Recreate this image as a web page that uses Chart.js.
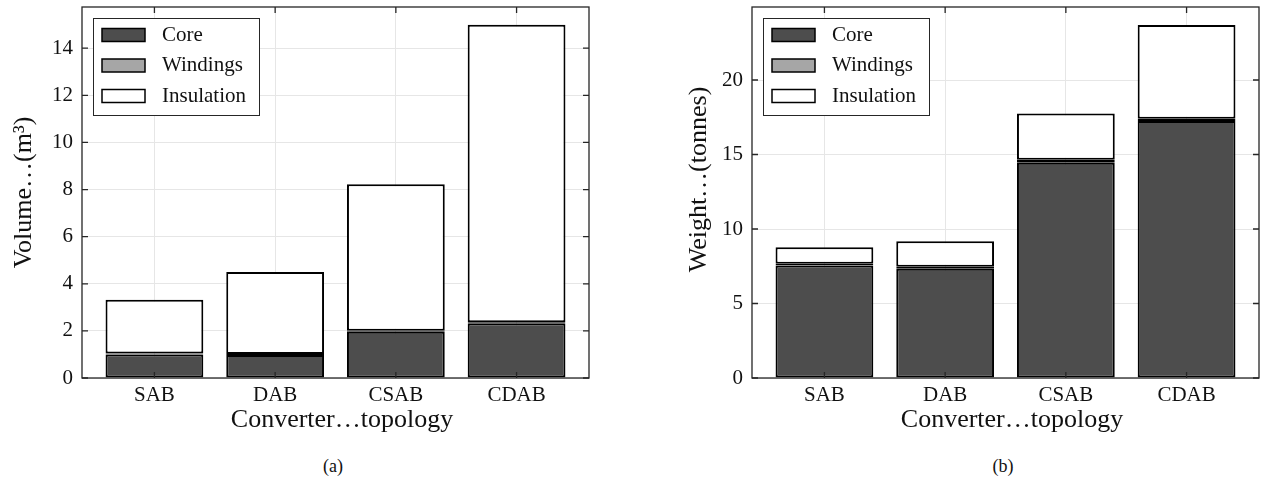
<!DOCTYPE html>
<html>
<head>
<meta charset="utf-8">
<script src="https://cdn.jsdelivr.net/npm/chart.js@4.4.0/dist/chart.umd.min.js"></script>
<style>
  body { margin: 0; background: #fff; width: 1264px; height: 495px; position: relative; overflow: hidden; font-family: "Liberation Serif", serif; }
  .panel { position: absolute; top: 0; width: 632px; height: 440px; }
  .cap { position: absolute; top: 456px; width: 60px; text-align: center; font-size: 18px; color: #111; }
</style>
</head>
<body>
<div class="panel" style="left:0"><canvas id="volumeChart" width="632" height="440"></canvas></div>
<div class="panel" style="left:632px"><canvas id="weightChart" width="632" height="440"></canvas></div>
<div class="cap" style="left:303px">(a)</div>
<div class="cap" style="left:973px">(b)</div>
<script>
// categories and series
const topologies = ["SAB", "DAB", "CSAB", "CDAB"];
const parts = ["Core", "Windings", "Insulation"];
const partColors = ["#4d4d4d", "#a6a6a6", "#ffffff"];

// (a) volume in m^3
const volumeCore = [1.0, 0.98, 1.96, 2.32];
const volumeWindings = [0.04, 0.04, 0.05, 0.05];
const volumeInsulation = [2.28, 3.48, 6.22, 12.63];
const volumeTicks = [0, 2, 4, 6, 8, 10, 12, 14];

// (b) weight in tonnes
const weightCore = [7.55, 7.34, 14.45, 17.25];
const weightWindings = [0.12, 0.12, 0.2, 0.15];
const weightInsulation = [1.10, 1.71, 3.11, 6.30];
const weightTicks = [0, 5, 10, 15, 20];

Chart.defaults.font.family = "'Liberation Serif', 'Times New Roman', serif";
Chart.defaults.color = "#111";

// axes box, inward ticks and the legend drawn on top like matlab does
const frameAndLegend = {
  id: "frameAndLegend",
  afterDraw(chart) {
    const { ctx, chartArea: a, scales } = chart;
    ctx.save();
    ctx.strokeStyle = "#262626";
    ctx.lineWidth = 1.3;
    ctx.strokeRect(a.left, a.top, a.right - a.left, a.bottom - a.top);

    ctx.beginPath();
    scales.y.ticks.forEach(t => {
      const py = scales.y.getPixelForValue(t.value);
      ctx.moveTo(a.left, py); ctx.lineTo(a.left + 6, py);
      ctx.moveTo(a.right, py); ctx.lineTo(a.right - 6, py);
    });
    scales.x.ticks.forEach(t => {
      const px = scales.x.getPixelForValue(t.value);
      ctx.moveTo(px, a.top); ctx.lineTo(px, a.top + 6);
      ctx.moveTo(px, a.bottom); ctx.lineTo(px, a.bottom - 6);
    });
    ctx.stroke();

    // legend
    const lx = a.left + 11, ly = a.top + 11;
    ctx.fillStyle = "#fff";
    ctx.fillRect(lx, ly, 166, 97);
    ctx.lineWidth = 1;
    ctx.strokeRect(lx + 0.5, ly + 0.5, 166, 97);
    ctx.font = "21px 'Liberation Serif'";
    ctx.textBaseline = "middle";
    chart.data.datasets.forEach((ds, i) => {
      const cy = ly + 17 + i * 30.5;
      ctx.fillStyle = ds.backgroundColor;
      ctx.fillRect(lx + 9, cy - 6.5, 43, 13);
      ctx.lineWidth = 1.5;
      ctx.strokeStyle = "#000";
      ctx.strokeRect(lx + 9, cy - 6.5, 43, 13);
      ctx.fillStyle = "#111";
      ctx.fillText(ds.label, lx + 69, cy);
    });
    ctx.restore();
  }
};

function makeChart(canvasId, series, yMax, yTicks, yTitle, padLeft, padRight, yWidth) {
  const ctx = document.getElementById(canvasId).getContext("2d");
  return new Chart(ctx, {
    type: "bar",
    data: {
      datasets: series.map((values, i) => ({
        label: parts[i],
        data: values.map((v, j) => ({ x: j + 1, y: v })),
        backgroundColor: partColors[i],
        borderColor: "#000",
        borderWidth: 2,
        borderSkipped: false,
        barPercentage: 0.81,
        categoryPercentage: 1.0
      }))
    },
    options: {
      responsive: false,
      animation: false,
      layout: { padding: { left: padLeft, top: 7, right: padRight, bottom: 0 } },
      plugins: { legend: { display: false }, tooltip: { enabled: false } },
      scales: {
        x: {
          type: "linear",
          stacked: true,
          offset: false,
          min: 0.4,
          max: 4.6,
          afterBuildTicks: scale => { scale.ticks = topologies.map((_, i) => ({ value: i + 1 })); },
          afterFit: scale => { scale.height = 62; scale.paddingLeft = 0; scale.paddingRight = 0; },
          ticks: {
            padding: 5,
            font: { size: 21 },
            callback: value => topologies[Math.round(value) - 1]
          },
          grid: { offset: false, color: "#e6e6e6", lineWidth: 1, drawTicks: false },
          border: { display: false },
          title: { display: true, text: "  Converter…topology", font: { size: 26 }, padding: { top: 0, bottom: 4 } }
        },
        y: {
          stacked: true,
          min: 0,
          max: yMax,
          afterBuildTicks: scale => { scale.ticks = yTicks.map(v => ({ value: v })); },
          afterFit: scale => { scale.width = yWidth; scale.paddingTop = 0; scale.paddingBottom = 0; },
          ticks: { padding: 9, font: { size: 21 } },
          grid: { color: "#e6e6e6", lineWidth: 1, drawTicks: false },
          border: { display: false },
          title: { display: true, text: yTitle, font: { size: 26 }, padding: { top: 5, bottom: 0 } }
        }
      }
    },
    plugins: [frameAndLegend]
  });
}

makeChart("volumeChart", [volumeCore, volumeWindings, volumeInsulation], 15.75, volumeTicks,
  "Volume…(m³)", 4, 43, 78);
makeChart("weightChart", [weightCore, weightWindings, weightInsulation], 24.9, weightTicks,
  "    Weight…(tonnes)", 47, 5, 73);
</script>
</body>
</html>
